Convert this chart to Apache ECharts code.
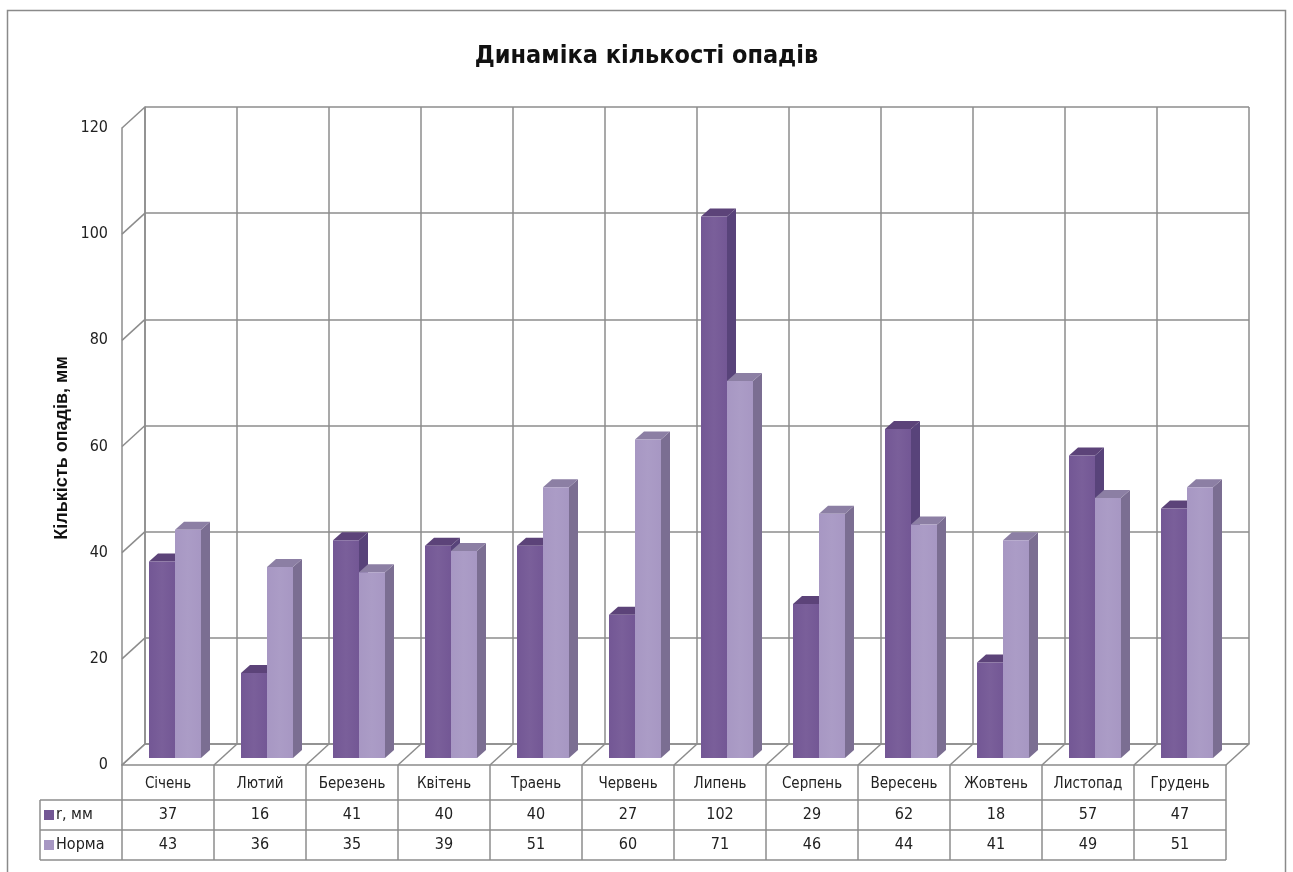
<!DOCTYPE html>
<html>
<head>
<meta charset="utf-8">
<title>Динаміка кількості опадів</title>
<script src="https://cdn.jsdelivr.net/npm/echarts@6/dist/echarts.min.js"></script>
<style>
  html, body { margin: 0; padding: 0; background: #fff; }
  #main { width: 1293px; height: 872px; }
</style>
</head>
<body>
<div id="main"></div>
<script>
// дані діаграми
const months = ['Січень', 'Лютий', 'Березень', 'Квітень', 'Траень', 'Червень', 'Липень', 'Серпень', 'Вересень', 'Жовтень', 'Листопад', 'Грудень'];
const rainName = 'r, мм';
const normName = 'Норма';
const rainValues = [37, 16, 41, 40, 40, 27, 102, 29, 62, 18, 57, 47];
const normValues = [43, 36, 35, 39, 51, 60, 71, 46, 44, 41, 49, 51];
const yTicks = [0, 20, 40, 60, 80, 100, 120];

const FONT = '"Liberation Sans Narrow", "DejaVu Sans Condensed", "Open Sans", sans-serif';
const LINE = '#8c8c8c';

// зсув "глибини" задньої стінки відносно переднього краю
const DEPTH_X = 23, DEPTH_Y = -21;
// зсув стовпчиків та розмір їх бічної грані
const BAR_SX = 7, BAR_SY = -7, BAR_W = 26, SIDE_X = 9, SIDE_Y = -8;

const dark = { front: '#735795', side: '#58437a', top: '#5c4379' };
const light = { front: '#a797c3', side: '#7b6e92', top: '#8c7fa4' };

const chart = echarts.init(document.getElementById('main'));

// легкий об'єм на передній грані
function faceFill(c) {
    return new echarts.graphic.LinearGradient(0, 0, 1, 0, [
        { offset: 0, color: c },
        { offset: 0.5, color: echarts.color.lift(c, 0.05) },
        { offset: 1, color: c }
    ]);
}

// 3D-стовпчик: передня грань, бічна та верхня
function barRender(colors, shift) {
    return function (params, api) {
        const i = api.value(0);
        const base = api.coord([i, 0]);
        const top = api.coord([i, api.value(1)]);
        const x0 = base[0] + BAR_SX + shift;
        const y0 = base[1] + BAR_SY;
        const y1 = top[1] + BAR_SY;
        const x1 = x0 + BAR_W;
        return {
            type: 'group',
            children: [
                {
                    type: 'polygon',
                    shape: { points: [[x1, y1], [x1 + SIDE_X, y1 + SIDE_Y], [x1 + SIDE_X, y0 + SIDE_Y], [x1, y0]] },
                    style: { fill: colors.side }
                },
                {
                    type: 'polygon',
                    shape: { points: [[x0, y1], [x0 + SIDE_X, y1 + SIDE_Y], [x1 + SIDE_X, y1 + SIDE_Y], [x1, y1]] },
                    style: { fill: colors.top }
                },
                {
                    type: 'rect',
                    shape: { x: x0, y: y1, width: BAR_W, height: y0 - y1 },
                    style: { fill: faceFill(colors.front) }
                }
            ]
        };
    };
}

// діагоналі від передньої осі до задньої стінки
function tickDiagRender(params, api) {
    const p = api.coord([0, api.value(1)]);
    const w = api.size([1, 0])[0];
    const x = p[0] - w / 2;
    return {
        type: 'line',
        shape: { x1: x, y1: p[1], x2: x + DEPTH_X, y2: p[1] + DEPTH_Y },
        style: { stroke: LINE, lineWidth: 1.5 }
    };
}

// діагоналі на підлозі + таблиця даних
function tableRender(params, api) {
    const i = params.dataIndex;
    const base = api.coord([i, 0]);
    const w = api.size([1, 0])[0];
    const xl = base[0] - w / 2;
    const xr = base[0] + w / 2;
    const yTop = base[1];
    const r1 = yTop + 35, r2 = r1 + 30, r3 = r2 + 30;
    const st = { stroke: LINE, lineWidth: 1.5 };
    const txt = { fill: '#222', font: '16px ' + FONT, align: 'center', verticalAlign: 'middle' };
    const kids = [
        { type: 'line', shape: { x1: xl, y1: yTop, x2: xl + DEPTH_X, y2: yTop + DEPTH_Y }, style: st },
        { type: 'line', shape: { x1: xl, y1: yTop, x2: xl, y2: r3 }, style: st },
        { type: 'line', shape: { x1: xl, y1: r1, x2: xr, y2: r1 }, style: st },
        { type: 'line', shape: { x1: xl, y1: r2, x2: xr, y2: r2 }, style: st },
        { type: 'line', shape: { x1: xl, y1: r3, x2: xr, y2: r3 }, style: st },
        { type: 'text', style: Object.assign({}, txt, { x: base[0], y: (yTop + r1) / 2 + 2, text: months[i], font: '15px ' + FONT }) },
        { type: 'text', style: Object.assign({ x: base[0], y: (r1 + r2) / 2, text: String(api.value(1)) }, txt) },
        { type: 'text', style: Object.assign({ x: base[0], y: (r2 + r3) / 2, text: String(api.value(2)) }, txt) }
    ];
    if (i === months.length - 1) {
        kids.push({ type: 'line', shape: { x1: xr, y1: yTop, x2: xr + DEPTH_X, y2: yTop + DEPTH_Y }, style: st });
        kids.push({ type: 'line', shape: { x1: xr, y1: yTop, x2: xr, y2: r3 }, style: st });
    }
    if (i === 0) {
        // колонка легенди
        const lx = xl - 82;
        kids.push({ type: 'line', shape: { x1: lx, y1: r1, x2: xl, y2: r1 }, style: st });
        kids.push({ type: 'line', shape: { x1: lx, y1: r2, x2: xl, y2: r2 }, style: st });
        kids.push({ type: 'line', shape: { x1: lx, y1: r3, x2: xl, y2: r3 }, style: st });
        kids.push({ type: 'line', shape: { x1: lx, y1: r1, x2: lx, y2: r3 }, style: st });
        kids.push({ type: 'rect', shape: { x: lx + 4, y: (r1 + r2) / 2 - 5, width: 10, height: 10 }, style: { fill: dark.front } });
        kids.push({ type: 'rect', shape: { x: lx + 4, y: (r2 + r3) / 2 - 5, width: 10, height: 10 }, style: { fill: light.front } });
        kids.push({ type: 'text', style: Object.assign({}, txt, { x: lx + 16, y: (r1 + r2) / 2, text: rainName, align: 'left' }) });
        kids.push({ type: 'text', style: Object.assign({}, txt, { x: lx + 16, y: (r2 + r3) / 2, text: normName, align: 'left' }) });
    }
    return { type: 'group', children: kids };
}

const option = {
    animation: false,
    backgroundColor: '#fff',
    title: {
        text: 'Динаміка кількості опадів',
        left: 'center',
        top: 39,
        textStyle: { fontFamily: FONT, fontSize: 25, fontWeight: 'bold', color: '#111' }
    },
    graphic: [
        {
            type: 'rect',
            shape: { x: 7.5, y: 10.5, width: 1278, height: 880 },
            style: { fill: 'none', stroke: '#8a8a8a', lineWidth: 1.5 },
            z: 0
        },
        {
            type: 'text',
            x: 62, y: 448,
            rotation: Math.PI / 2,
            style: {
                text: 'Кількість опадів, мм',
                font: 'bold 18px "Liberation Sans", Arial, sans-serif',
                fill: '#111',
                align: 'center',
                verticalAlign: 'middle'
            }
        }
    ],
    grid: [
        { left: 122, top: 128, width: 1104, height: 637 },
        { left: 145, top: 107, width: 1104, height: 637 }
    ],
    xAxis: [
        {
            type: 'category', gridIndex: 0, data: months,
            axisLine: { lineStyle: { color: LINE, width: 1.5 } },
            axisTick: { show: false }, axisLabel: { show: false }
        },
        {
            type: 'category', gridIndex: 1, data: months,
            axisLine: { lineStyle: { color: LINE, width: 1.5 } },
            axisTick: { show: false }, axisLabel: { show: false },
            splitLine: { show: true, lineStyle: { color: LINE, width: 1.5 } }
        }
    ],
    yAxis: [
        {
            type: 'value', gridIndex: 0, min: 0, max: 120, interval: 20,
            axisLine: { show: true, lineStyle: { color: LINE, width: 1.5 } },
            axisTick: { show: false },
            splitLine: { show: false },
            axisLabel: { color: '#222', fontSize: 16, fontFamily: FONT, margin: 14 }
        },
        {
            type: 'value', gridIndex: 1, min: 0, max: 120, interval: 20,
            axisLine: { show: true, lineStyle: { color: LINE, width: 1.5 } },
            axisTick: { show: false }, axisLabel: { show: false },
            splitLine: { show: true, lineStyle: { color: LINE, width: 1.5 } }
        }
    ],
    series: [
        {
            type: 'custom', name: 'ticks', xAxisIndex: 0, yAxisIndex: 0,
            data: yTicks.map(v => [0, v]),
            renderItem: tickDiagRender, silent: true, clip: false
        },
        {
            type: 'custom', name: 'table', xAxisIndex: 0, yAxisIndex: 0,
            data: months.map((m, i) => [i, rainValues[i], normValues[i]]),
            renderItem: tableRender, silent: true, clip: false
        },
        {
            type: 'custom', name: rainName, xAxisIndex: 0, yAxisIndex: 0,
            data: rainValues.map((v, i) => [i, v]),
            renderItem: barRender(dark, -BAR_W), clip: false, z: 3
        },
        {
            type: 'custom', name: normName, xAxisIndex: 0, yAxisIndex: 0,
            data: normValues.map((v, i) => [i, v]),
            renderItem: barRender(light, 0), clip: false, z: 4
        }
    ]
};

chart.setOption(option);
</script>
</body>
</html>
